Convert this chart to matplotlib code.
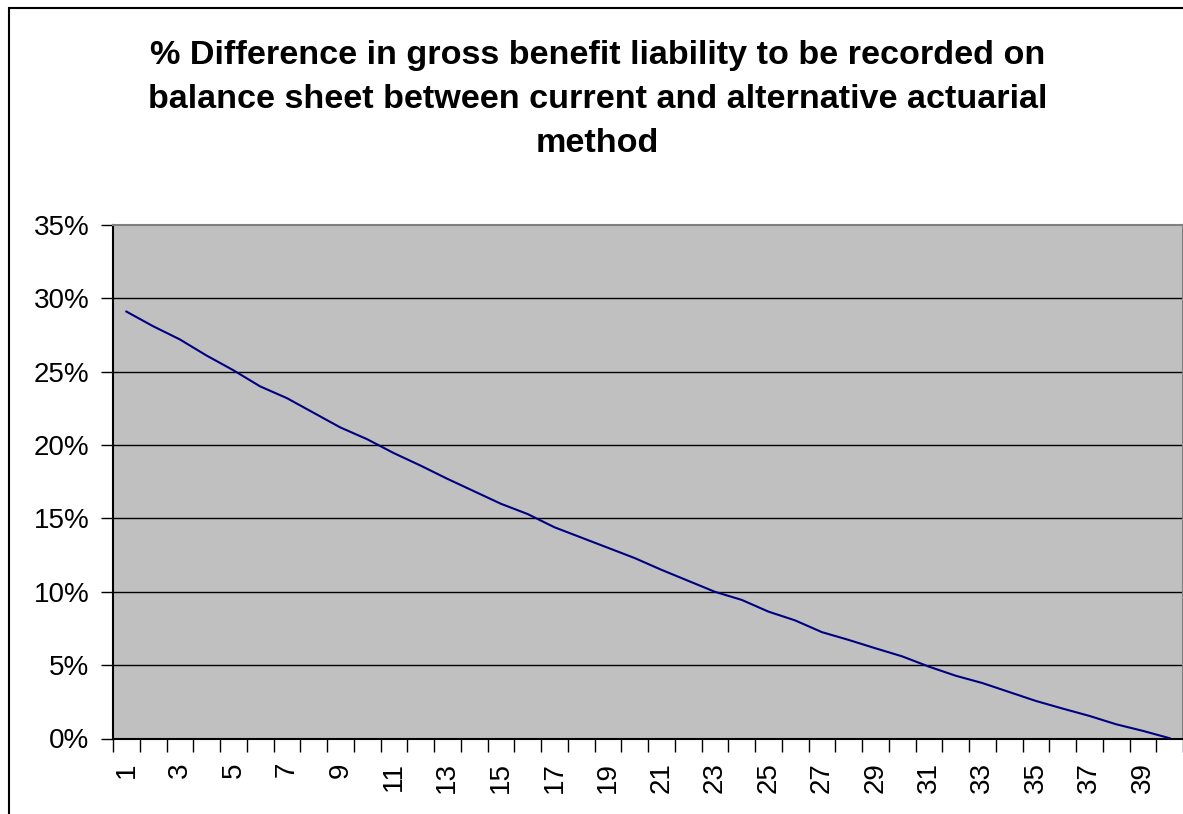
import matplotlib
matplotlib.use("Agg")
import matplotlib.pyplot as plt
import matplotlib.patches as patches
from matplotlib.ticker import FixedLocator, FuncFormatter

# years 1..40 and % difference
years = list(range(1, 41))
pct_diff = [29.1, 28.1, 27.2, 26.1, 25.1, 24.0, 23.2, 22.2, 21.2, 20.4,
            19.45, 18.6, 17.7, 16.85, 16.0, 15.3, 14.4, 13.7, 13.0, 12.3,
            11.5, 10.75, 10.0, 9.45, 8.65, 8.05, 7.25, 6.72, 6.15, 5.6,
            4.9, 4.28, 3.78, 3.17, 2.56, 2.04, 1.54, 0.97, 0.52, 0.02]
y_ticks = [0, 5, 10, 15, 20, 25, 30, 35]
title_lines = ["% Difference in gross benefit liability to be recorded on",
               "balance sheet between current and alternative actuarial",
               "method"]

plt.rcParams['font.family'] = ['Liberation Sans', 'DejaVu Sans']

W, H = 1183, 814
fig = plt.figure(figsize=(W / 100, H / 100), dpi=100)
ax = fig.add_axes([113 / W, (H - 738.5) / H, (1183 - 113) / W, (738.5 - 225) / H])

ax.set_facecolor('#c0c0c0')
ax.plot(years, [v / 100 for v in pct_diff], color='#000080', lw=1.5, zorder=3)

ax.set_xlim(0.5, 40.5)
ax.set_ylim(0, 0.35)

# horizontal gridlines
for t in y_ticks[1:-1]:
    ax.axhline(t / 100, color='black', lw=1, zorder=2)

ax.yaxis.set_major_locator(FixedLocator([t / 100 for t in y_ticks]))
ax.yaxis.set_major_formatter(FuncFormatter(lambda v, p: '%d%%' % round(v * 100)))
ax.tick_params(axis='y', length=9, width=1, pad=8, labelsize=20, color='black')

# ticks between categories, labels on odd categories
ax.xaxis.set_major_locator(FixedLocator([i + 0.5 for i in range(0, 41)]))
ax.xaxis.set_major_formatter(FuncFormatter(lambda v, p: ''))
ax.xaxis.set_minor_locator(FixedLocator(years[::2]))
ax.xaxis.set_minor_formatter(FuncFormatter(lambda v, p: '%d' % v))
ax.tick_params(axis='x', which='major', length=9, width=1, color='black')
ax.tick_params(axis='x', which='minor', length=0, pad=17, labelsize=20,
               labelrotation=90)

for s in ['top', 'right']:
    ax.spines[s].set_color('#808080')
    ax.spines[s].set_linewidth(1.5)
ax.spines['left'].set_linewidth(1.5)
ax.spines['bottom'].set_linewidth(1.5)

# title, one line at a time (baselines as in the original)
for line, base in zip(title_lines, [64, 108, 152]):
    fig.text(597.5 / W, 1 - base / H, line, ha='center', va='baseline',
             fontsize=24.6, fontweight='bold')

# chart area border (cut off at right and bottom)
fig.patches.append(patches.Rectangle((9 / W, -0.1), 1.2, 1 - 8 / H + 0.1,
                                     transform=fig.transFigure, fill=False,
                                     edgecolor='black', lw=1.5))

fig.savefig('out.png', dpi=100)
